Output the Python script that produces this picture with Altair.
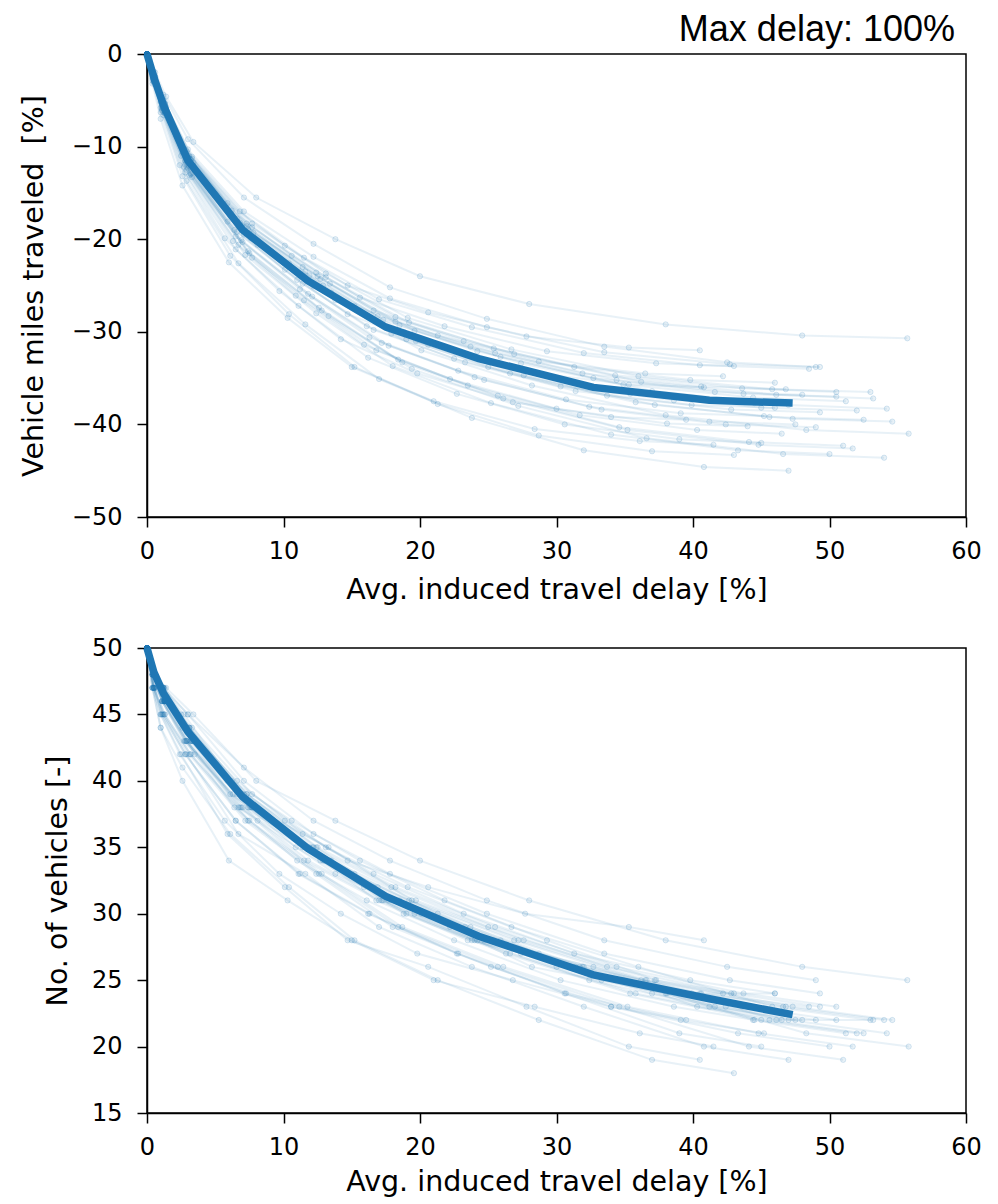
import altair as alt
import pandas as pd

TITLE = "Max delay: 100%"
X_TITLE = "Avg. induced travel delay [%]"
TOP_Y_TITLE = "Vehicle miles traveled\u00a0 [%]"
BOT_Y_TITLE = "No. of vehicles [-]"
X_TICKS = [0, 10, 20, 30, 40, 50, 60]
TOP_Y_TICKS = [0, -10, -20, -30, -40, -50]
BOT_Y_TICKS = [15, 20, 25, 30, 35, 40, 45, 50]
BLUE = "#1f77b4"

# individual runs: delay [%], vehicle miles traveled change [%], number of vehicles
RUN_DELAY = [
    [0, 0.6, 1.4, 3.4, 8.0, 13.8, 20.0, 28.0, 38.0, 48.0, 55.7],
    [0, 0.5, 1.2, 2.9, 6.8, 11.5, 17.0, 23.8, 32.0, 40.5, 48.5],
    [0, 0.5, 1.3, 3.1, 7.3, 12.4, 18.2, 25.4, 34.3, 43.6, 50.5],
    [0, 0.6, 1.3, 3.3, 7.7, 13.1, 19.2, 26.9, 36.2, 46.1, 53.2],
    [0, 0.5, 1.4, 3.4, 7.8, 13.4, 19.6, 27.4, 37.0, 47.0, 54.2],
    [0, 0.6, 1.4, 3.5, 8.1, 13.8, 20.1, 28.2, 38.0, 48.3, 55.8],
    [0, 0.5, 1.3, 3.3, 7.7, 13.3, 19.4, 27.2, 36.6, 46.6, 54.0],
    [0, 0.5, 1.2, 2.9, 6.7, 11.6, 17.0, 23.8, 32.0, 40.8, 47.0],
    [0, 0.5, 1.3, 3.2, 7.4, 12.6, 18.4, 25.7, 34.6, 44.1, 51.0],
    [0, 0.5, 1.1, 2.9, 6.7, 11.5, 16.8, 23.5, 31.7, 40.3, 46.5],
    [0, 0.5, 1.1, 2.8, 6.5, 11.1, 16.2, 22.7, 30.6, 39.0, 45.0],
    [0, 0.5, 1.2, 3.1, 7.1, 12.2, 17.9, 25.0, 33.7, 42.8, 49.3],
    [0, 0.6, 1.3, 3.2, 7.5, 12.9, 18.8, 26.3, 35.4, 45.0, 52.0],
    [0, 0.4, 1.1, 2.7, 6.3, 10.9, 15.9, 22.2, 30.0, 38.1, 44.0],
    [0, 0.4, 1.0, 2.6, 6.1, 10.4, 15.2, 21.3, 28.7, 37.0, 43.0],
    [0, 0.5, 1.3, 3.1, 7.3, 12.5, 18.2, 25.5, 34.4, 43.7, 50.5],
    [0, 0.5, 1.2, 3.0, 6.9, 11.9, 17.3, 24.2, 32.7, 41.6, 48.0],
    [0, 0.5, 1.1, 2.8, 6.6, 11.4, 16.6, 23.2, 31.3, 39.8, 46.0],
    [0, 0.4, 1.1, 2.7, 6.2, 10.6, 15.6, 21.8, 29.3, 37.3, 43.0],
    [0, 0.4, 1.0, 2.5, 5.9, 10.1, 14.7, 20.6, 27.8, 35.3, 40.5],
    [0, 0.5, 1.2, 2.9, 6.9, 11.8, 17.2, 24.0, 32.4, 41.2, 47.5],
    [0, 0.5, 1.3, 3.3, 7.6, 13.0, 19.0, 26.6, 35.8, 45.6, 52.5],
    [0, 0.4, 1.1, 2.8, 6.4, 11.0, 16.1, 22.5, 30.3, 38.6, 44.5],
    [0, 0.5, 1.2, 3.1, 7.2, 12.4, 18.0, 25.2, 34.0, 43.3, 50.0],
    [0, 0.4, 1.0, 2.5, 5.9, 10.1, 14.7, 20.6, 27.7, 35.3, 40.8],
    [0, 0.4, 1.0, 2.4, 5.7, 9.7, 14.2, 19.8, 26.8, 34.0, 39.5],
    [0, 0.6, 1.3, 3.3, 7.7, 13.1, 19.1, 26.7, 36.0, 45.8, 53.0],
    [0, 0.5, 1.1, 2.8, 6.6, 11.4, 16.6, 23.3, 31.4, 39.9, 46.0],
    [0, 0.4, 1.0, 2.6, 6.0, 10.3, 15.0, 21.0, 28.4, 36.1, 41.5],
    [0, 0.5, 1.2, 3.0, 7.1, 12.2, 17.8, 24.9, 33.5, 42.5, 49.0],
    [0, 0.5, 1.2, 3.0, 7.0, 12.1, 17.7, 24.7, 33.3, 42.4, 49.0],
    [0, 0.5, 1.3, 3.2, 7.4, 12.7, 18.5, 25.9, 34.9, 44.4, 51.2],
    [0, 0.5, 1.1, 2.8, 6.5, 11.2, 16.3, 22.8, 30.7, 39.1, 45.2],
    [0, 0.6, 1.4, 3.4, 7.9, 13.5, 19.7, 27.6, 37.2, 47.3, 54.6],
    [0, 0.4, 1.0, 2.6, 6.1, 10.4, 15.2, 21.3, 28.7, 36.5, 42.2],
    [0, 0.5, 1.2, 2.9, 6.8, 11.6, 16.9, 23.7, 31.9, 40.6, 46.8],
    [0, 0.5, 1.3, 3.2, 7.5, 12.8, 18.7, 26.1, 35.2, 44.8, 51.7],
    [0, 0.5, 1.2, 3.0, 7.1, 12.2, 17.8, 24.9, 33.5, 42.7, 49.3],
]
RUN_VMT = [
    [0, -2.0, -4.6, -9.5, -15.5, -20.0, -24.0, -27.0, -29.2, -30.4, -30.7],
    [0, -2.3, -5.0, -10.5, -17.0, -22.0, -26.5, -29.5, -32.3, -33.6, -34.0],
    [0, -2.4, -5.3, -11.0, -18.3, -23.6, -28.4, -31.8, -34.7, -36.1, -36.5],
    [0, -2.5, -5.4, -11.3, -18.7, -24.1, -29.0, -32.4, -35.4, -36.8, -37.2],
    [0, -2.6, -5.7, -11.7, -19.3, -24.8, -29.9, -33.4, -36.4, -37.9, -38.3],
    [0, -2.8, -6.0, -12.5, -20.6, -26.6, -32.0, -35.8, -39.0, -40.6, -41.0],
    [0, -3.0, -6.4, -13.3, -22.0, -28.3, -34.0, -38.0, -41.5, -43.2, -43.6],
    [0, -3.1, -6.6, -13.7, -22.6, -29.2, -35.1, -39.3, -42.8, -44.6, -45.0],
    [0, -2.8, -6.2, -12.9, -21.3, -27.4, -33.0, -36.9, -40.3, -41.9, -42.3],
    [0, -2.7, -6.0, -12.5, -20.6, -26.6, -32.0, -35.8, -39.0, -40.6, -41.0],
    [0, -2.8, -6.1, -12.8, -21.1, -27.2, -32.8, -36.7, -40.0, -41.6, -42.0],
    [0, -2.6, -5.6, -11.8, -19.5, -25.1, -30.2, -33.8, -36.9, -38.4, -38.7],
    [0, -2.5, -5.6, -11.7, -19.4, -25.0, -30.0, -33.6, -36.7, -38.2, -38.5],
    [0, -2.7, -5.8, -12.2, -20.2, -26.1, -31.4, -35.1, -38.3, -39.9, -40.2],
    [0, -2.9, -6.3, -13.2, -21.8, -28.1, -33.8, -37.8, -41.2, -42.9, -43.3],
    [0, -2.4, -5.4, -11.3, -18.6, -24.0, -28.9, -32.3, -35.2, -36.7, -37.0],
    [0, -2.4, -5.4, -11.2, -18.5, -23.9, -28.7, -32.1, -35.0, -36.5, -36.8],
    [0, -2.3, -5.2, -10.8, -17.8, -23.0, -27.7, -31.0, -33.8, -35.2, -35.5],
    [0, -2.2, -4.9, -10.2, -16.9, -21.8, -26.3, -29.4, -32.1, -33.4, -33.7],
    [0, -2.1, -4.7, -9.7, -16.1, -20.7, -25.0, -27.9, -30.5, -31.7, -32.0],
    [0, -2.6, -5.8, -12.2, -20.1, -25.9, -31.2, -34.9, -38.1, -39.7, -40.0],
    [0, -2.6, -5.7, -12.0, -19.9, -25.6, -30.8, -34.5, -37.6, -39.2, -39.5],
    [0, -2.5, -5.5, -11.5, -19.0, -24.4, -29.4, -32.9, -35.9, -37.4, -37.7],
    [0, -2.9, -6.3, -13.1, -21.7, -28.0, -33.7, -37.7, -41.1, -42.8, -43.2],
    [0, -2.4, -5.2, -11.0, -18.1, -23.3, -28.1, -31.4, -34.3, -35.7, -36.0],
    [0, -2.6, -5.8, -12.0, -19.9, -25.6, -30.8, -34.5, -37.6, -39.2, -39.5],
    [0, -2.4, -5.3, -11.1, -18.3, -23.7, -28.5, -31.9, -34.8, -36.2, -36.5],
    [0, -2.5, -5.6, -11.6, -19.2, -24.8, -29.8, -33.3, -36.4, -37.9, -38.2],
    [0, -3.2, -7.0, -14.2, -22.5, -28.5, -33.8, -37.5, -40.5, -41.8, -42.2],
    [0, -1.9, -4.4, -9.2, -15.5, -20.5, -25.2, -28.6, -31.6, -33.3, -33.8],
    [0, -2.7, -5.9, -12.3, -20.3, -26.2, -31.5, -35.2, -38.4, -40.0, -40.3],
    [0, -2.5, -5.5, -11.4, -18.9, -24.3, -29.3, -32.7, -35.7, -37.1, -37.5],
    [0, -2.6, -5.7, -11.9, -19.7, -25.4, -30.6, -34.2, -37.3, -38.8, -39.1],
    [0, -2.6, -5.8, -12.1, -20.0, -25.8, -31.0, -34.7, -37.9, -39.4, -39.7],
    [0, -2.3, -5.1, -10.6, -17.5, -22.6, -27.2, -30.4, -33.2, -34.5, -34.8],
    [0, -2.4, -5.3, -11.0, -18.2, -23.5, -28.3, -31.6, -34.5, -35.9, -36.2],
    [0, -2.9, -6.3, -13.0, -21.5, -27.7, -33.3, -37.2, -40.6, -42.2, -42.6],
    [0, -2.2, -4.9, -10.3, -17.0, -21.9, -26.4, -29.5, -32.2, -33.5, -33.8],
]
RUN_VEH = [
    [50, 48, 47, 45, 40, 37, 34, 31, 28, 26, 25],
    [50, 48, 46, 43, 38, 34, 31, 28, 26, 24, 23],
    [50, 48, 47, 44, 39, 35, 31, 28, 25, 23, 22],
    [50, 47, 46, 43, 38, 34, 31, 28, 25, 22, 22],
    [50, 48, 46, 43, 38, 34, 30, 27, 24, 22, 21],
    [50, 47, 46, 42, 37, 33, 30, 26, 24, 21, 20],
    [50, 48, 46, 43, 38, 35, 31, 28, 25, 23, 22],
    [50, 47, 45, 42, 36, 33, 29, 26, 23, 20, 19],
    [50, 47, 45, 42, 37, 33, 29, 26, 23, 20, 19],
    [50, 48, 46, 43, 38, 35, 31, 28, 26, 23, 22],
    [50, 47, 45, 42, 37, 33, 30, 27, 24, 21, 20],
    [50, 48, 47, 44, 39, 35, 32, 29, 26, 24, 23],
    [50, 48, 46, 43, 38, 34, 30, 27, 24, 22, 21],
    [50, 48, 46, 43, 39, 35, 32, 29, 26, 24, 23],
    [50, 47, 44, 41, 36, 32, 28, 25, 22, 19, 18],
    [50, 48, 46, 44, 39, 35, 32, 29, 26, 24, 23],
    [50, 48, 47, 44, 39, 35, 31, 28, 26, 23, 22],
    [50, 48, 47, 44, 40, 36, 33, 30, 27, 25, 24],
    [50, 48, 47, 45, 40, 37, 34, 31, 28, 25, 24],
    [50, 47, 45, 42, 36, 32, 28, 26, 23, 20, 19],
    [50, 47, 46, 43, 38, 34, 31, 28, 25, 23, 22],
    [50, 48, 46, 43, 38, 34, 30, 27, 24, 22, 21],
    [50, 48, 46, 43, 38, 34, 31, 28, 25, 23, 22],
    [50, 47, 45, 42, 37, 33, 29, 26, 23, 21, 20],
    [50, 48, 47, 45, 40, 37, 34, 32, 30, 29, 28],
    [50, 47, 45, 42, 37, 33, 30, 27, 25, 23, 22],
    [50, 48, 46, 44, 39, 35, 32, 29, 26, 23, 22],
    [50, 48, 46, 43, 39, 35, 32, 29, 26, 24, 24],
    [50, 47, 44, 40, 34, 31, 28, 25, 23, 21, 20],
    [50, 48, 47, 45, 41, 37, 34, 31, 28, 26, 25],
    [50, 48, 46, 43, 38, 35, 31, 28, 25, 23, 22],
    [50, 48, 46, 43, 38, 34, 31, 28, 25, 22, 21],
    [50, 47, 45, 42, 37, 33, 30, 27, 24, 22, 21],
    [50, 48, 46, 43, 38, 34, 31, 28, 25, 23, 22],
    [50, 48, 47, 44, 39, 36, 33, 30, 27, 25, 24],
    [50, 48, 47, 44, 39, 35, 32, 29, 26, 24, 23],
    [50, 47, 45, 42, 37, 33, 29, 26, 23, 21, 20],
    [50, 48, 47, 45, 40, 36, 33, 30, 27, 25, 24],
]

# ensemble mean
MEAN_DELAY = [0, 0.5, 1.2, 3.0, 7.0, 11.8, 17.5, 24.3, 32.7, 41.2, 47.3]
MEAN_VMT = [0, -2.5, -5.5, -11.5, -19.0, -24.5, -29.5, -32.9, -36.0, -37.4, -37.7]
MEAN_VEH = [50, 48.2, 46.6, 43.7, 38.8, 34.9, 31.3, 28.3, 25.4, 23.6, 22.4]

rows = []
for r, (xs, vs, ns) in enumerate(zip(RUN_DELAY, RUN_VMT, RUN_VEH)):
    for k, (x, v, n) in enumerate(zip(xs, vs, ns)):
        rows.append({"run": r, "step": k, "delay": x, "vmt": v, "veh": n})
runs = pd.DataFrame(rows)
mean = pd.DataFrame({"step": list(range(len(MEAN_DELAY))), "delay": MEAN_DELAY,
                     "vmt": MEAN_VMT, "veh": MEAN_VEH})

FONT = "DejaVu Sans"


def panel(field, domain, ticks, ytitle, title_x, height, x_title_pad, with_title=False):
    xenc = alt.X("delay:Q", scale=alt.Scale(domain=[0, 60], nice=False, zero=False),
                 axis=alt.Axis(values=X_TICKS, title=X_TITLE, format="d",
                               labelPadding=12, titlePadding=x_title_pad))
    yenc = alt.Y(f"{field}:Q", scale=alt.Scale(domain=domain, nice=False, zero=False),
                 axis=alt.Axis(values=ticks, title=ytitle, titleX=title_x, format="d",
                               labelPadding=15))
    base = alt.Chart(runs)
    lines = base.mark_line(color=BLUE, strokeWidth=2, opacity=0.1).encode(
        x=xenc, y=yenc, detail="run:N", order="step:Q")
    pts = base.mark_circle(size=28, color=BLUE, fillOpacity=0.1, stroke=BLUE,
                           strokeOpacity=0.16, strokeWidth=1).encode(x=xenc, y=yenc)
    mline = alt.Chart(mean).mark_line(color=BLUE, strokeWidth=7.5).encode(
        x=xenc, y=yenc, order="step:Q")
    layers = [lines, pts, mline]
    if with_title:
        txt = alt.Chart(pd.DataFrame({"t": [TITLE]})).mark_text(
            font="Liberation Sans", fontSize=36, align="right", baseline="alphabetic",
            color="black").encode(text="t:N", x=alt.value(808), y=alt.value(-13))
        layers.append(txt)
    return alt.layer(*layers).properties(width=819, height=height)


top = panel("vmt", [-50, 0], TOP_Y_TICKS, TOP_Y_TITLE, -99, 463, 12, with_title=True)
bottom = panel("veh", [15, 50], BOT_Y_TICKS, BOT_Y_TITLE, -75, 465, 8)

chart = alt.vconcat(top, bottom, spacing=131, bounds="flush").properties(
    padding={"left": 10, "top": 3, "right": 0, "bottom": 0}
).configure_view(stroke="black", strokeWidth=1.5).configure_axis(
    domainColor="black", domainWidth=1.5, tickColor="black", tickWidth=1.5,
    tickSize=10, labelFont=FONT, labelFontSize=24, labelColor="black",
    titleFont=FONT, titleFontSize=28.5, titleFontWeight="normal",
    titleColor="black", grid=False, labelFlush=False
)

chart.save("out.html", embed_options={"renderer": "svg", "actions": False})
